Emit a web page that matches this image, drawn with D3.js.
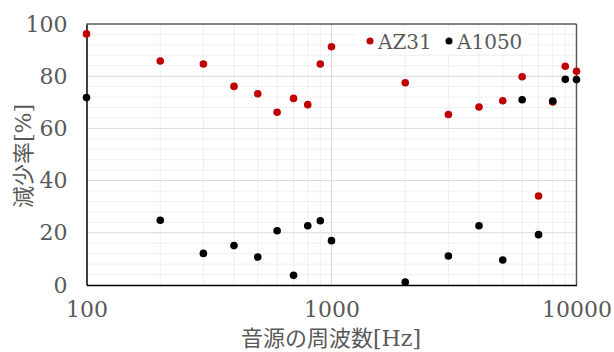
<!DOCTYPE html>
<html><head><meta charset="utf-8">
<script src="https://cdn.jsdelivr.net/npm/d3@7"></script>
<style>body{margin:0;background:#fff}</style>
</head><body>
<svg id="c" width="614" height="352"></svg>
<script>
const freqs = [100,200,300,400,500,600,700,800,900,1000,2000,3000,4000,5000,6000,7000,8000,9000,10000];
const az31  = [96.2,85.8,84.7,76.1,73.3,66.2,71.5,69.1,84.7,91.3,77.5,65.3,68.2,70.6,79.8,34.1,70.1,83.8,81.9];
const a1050 = [71.8,24.8,12.1,15.1,10.7,20.8,3.7,22.7,24.6,17.0,1.1,11.1,22.7,9.6,71.0,19.3,70.5,78.8,78.7];
const xTicks = [100,1000,10000];
const yTicks = [0,20,40,60,80,100];
const seriesNames = ["AZ31","A1050"];
const seriesColors = ["#c00000","#000000"];

const svg = d3.select("#c");
const L=86.5, R=576.5, T=24, B=285;
const x = d3.scaleLog().domain([100,10000]).range([L,R]);
const y = d3.scaleLinear().domain([0,100]).range([B,T]);
const font = "'DejaVu Serif','Noto Sans CJK JP',serif";
const grey = "#595959";

// minor grid
const minorY = d3.range(0,101,4).filter(v=>v%20!==0);
svg.append("g").selectAll("line").data(minorY).join("line")
  .attr("x1",L).attr("x2",R).attr("y1",d=>y(d)).attr("y2",d=>y(d))
  .attr("stroke","#efefef").attr("stroke-width",1);
const minorX = [];
[100,1000].forEach(b=>{for(let k=2;k<=9;k++)minorX.push(b*k);});
svg.append("g").selectAll("line").data(minorX).join("line")
  .attr("x1",d=>x(d)).attr("x2",d=>x(d)).attr("y1",T).attr("y2",B)
  .attr("stroke","#efefef").attr("stroke-width",1);
// major grid
svg.append("g").selectAll("line").data([20,40,60,80]).join("line")
  .attr("x1",L).attr("x2",R).attr("y1",d=>y(d)).attr("y2",d=>y(d))
  .attr("stroke","#d9d9d9").attr("stroke-width",1);
svg.append("g").selectAll("line").data([1000]).join("line")
  .attr("x1",d=>x(d)).attr("x2",d=>x(d)).attr("y1",T).attr("y2",B)
  .attr("stroke","#d9d9d9").attr("stroke-width",1);

// frame
svg.append("line").attr("x1",L).attr("x2",R).attr("y1",T).attr("y2",T).attr("stroke","#595959").attr("stroke-width",1.5);
svg.append("line").attr("x1",R).attr("x2",R).attr("y1",T).attr("y2",B).attr("stroke","#595959").attr("stroke-width",1.5);

// axes
const xAxis = d3.axisBottom(x).tickValues(xTicks).tickFormat(d3.format("d")).tickSize(0).tickPadding(16);
const gx = svg.append("g").attr("transform",`translate(0,${B})`).call(xAxis);
gx.select(".domain").attr("stroke","#000").attr("stroke-width",1.5);
gx.selectAll("text").attr("font-family",font).attr("font-size",22).attr("fill",grey);

const yAxis = d3.axisLeft(y).tickValues(yTicks).tickSize(0).tickPadding(19);
const gy = svg.append("g").attr("transform",`translate(${L},0)`).call(yAxis);
gy.select(".domain").attr("stroke","#000").attr("stroke-width",1.5);
gy.selectAll("text").attr("font-family",font).attr("font-size",22).attr("fill",grey);

// titles
svg.append("text").attr("x",331).attr("y",346).attr("text-anchor","middle")
  .attr("font-family",font).attr("font-size",22).attr("fill",grey).text("音源の周波数[Hz]");
svg.append("text").attr("transform","translate(31,156) rotate(-90)").attr("text-anchor","middle")
  .attr("font-family",font).attr("font-size",22).attr("fill",grey).text("減少率[%]");

// points
const data = [az31,a1050];
data.forEach((vals,i)=>{
  svg.append("g").selectAll("circle").data(vals).join("circle")
    .attr("cx",(d,j)=>x(freqs[j])).attr("cy",d=>y(d)).attr("r",3.8)
    .attr("fill",seriesColors[i]);
});

// legend
const lg = svg.append("g");
lg.append("rect").attr("x",356).attr("y",29).attr("width",174).attr("height",24).attr("fill","#fff");
const lx = [370,449];
seriesNames.forEach((n,i)=>{
  lg.append("circle").attr("cx",lx[i]).attr("cy",41).attr("r",3.5).attr("fill",seriesColors[i]);
  lg.append("text").attr("x",lx[i]+8).attr("y",48.5).attr("font-family",font).attr("font-size",20)
    .attr("fill",grey).text(n);
});
</script>
</body></html>
